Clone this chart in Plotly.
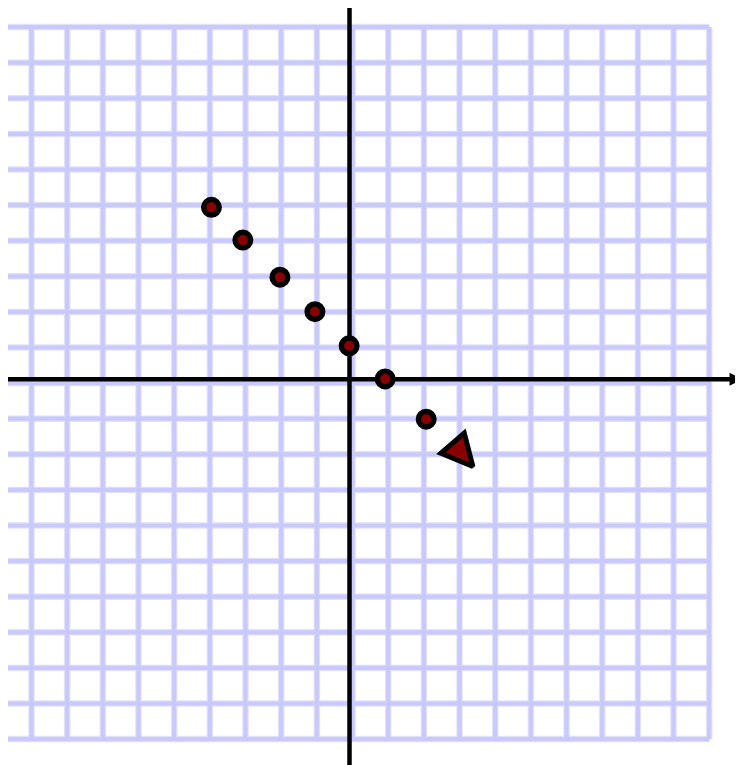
import plotly.graph_objects as go

# ---- data (coordinate plane units; origin where the black axes cross) ----
point_x = [-3.87, -2.99, -1.95, -0.97, -0.01, 1.00, 2.15]
point_y = [4.83, 3.91, 2.87, 1.90, 0.94, 0.01, -1.12]

arrow_tip_x = [3.46]
arrow_tip_y = [-2.45]
arrow_angle = 139

# grid lines (integer steps, slightly offset from the axes as in the picture)
grid_x = [i + 0.085 for i in range(-9, 11)]
grid_y = [j - 0.107 for j in range(-10, 11)]
grid_left = -9.686

# visible window
x_range = [-9.574, 11.032]
y_range = [-10.834, 10.430]

# axis extents
xaxis_line = [-9.686, 10.70]
xaxis_arrow_tip = 11.02
yaxis_line = [-10.834, 10.514]

fig = go.Figure()

# ---- grid ----
gx, gy = [], []
for x in grid_x:
    gx += [x, x, None]
    gy += [min(grid_y), max(grid_y), None]
for y in grid_y:
    gx += [grid_left, max(grid_x), None]
    gy += [y, y, None]

fig.add_trace(go.Scatter(x=gx, y=gy, mode="lines",
                         line=dict(color="#e2e2f6", width=6.5),
                         hoverinfo="skip"))
fig.add_trace(go.Scatter(x=gx, y=gy, mode="lines",
                         line=dict(color="#c9c9fd", width=4.2),
                         hoverinfo="skip"))

# ---- axes ----
fig.add_trace(go.Scatter(x=xaxis_line, y=[0, 0], mode="lines",
                         line=dict(color="black", width=4.5), hoverinfo="skip"))
fig.add_trace(go.Scatter(x=[0, 0], y=yaxis_line, mode="lines",
                         line=dict(color="black", width=4.5), hoverinfo="skip"))
fig.add_trace(go.Scatter(x=[xaxis_arrow_tip], y=[0], mode="markers",
                         marker=dict(symbol="arrow-up", angle=90, size=13,
                                     color="black", line=dict(width=0)),
                         cliponaxis=False, hoverinfo="skip"))

# ---- points ----
fig.add_trace(go.Scatter(x=point_x, y=point_y, mode="markers",
                         marker=dict(symbol="circle", size=15.5, color="#8b0000",
                                     line=dict(color="black", width=5.5))))

# ---- direction arrow ----
fig.add_trace(go.Scatter(x=arrow_tip_x, y=arrow_tip_y, mode="markers",
                         marker=dict(symbol="arrow-up", angle=arrow_angle, size=31,
                                     color="#8b0000",
                                     line=dict(color="black", width=5)),
                         cliponaxis=False))

fig.update_layout(
    width=735, height=757,
    margin=dict(l=0, r=0, t=0, b=0),
    paper_bgcolor="white", plot_bgcolor="white",
    showlegend=False,
    xaxis=dict(range=x_range, visible=False, fixedrange=True),
    yaxis=dict(range=y_range, visible=False, fixedrange=True),
)

fig.write_html("out.html")
